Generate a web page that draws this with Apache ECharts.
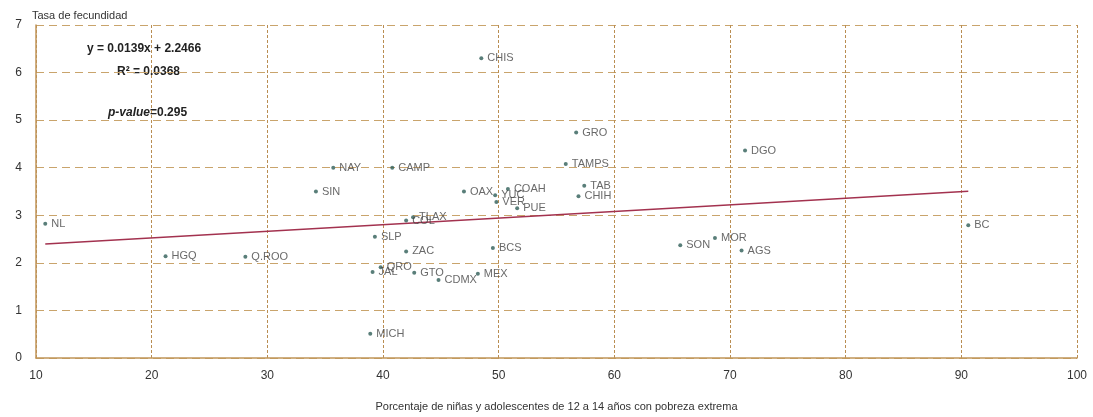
<!DOCTYPE html>
<html>
<head>
<meta charset="utf-8">
<script src="https://cdn.jsdelivr.net/npm/echarts@6/dist/echarts.min.js"></script>
<style>
html,body{margin:0;padding:0;background:#fff;}
#c{width:1093px;height:417px;}
</style>
</head>
<body>
<div id="c"></div>
<script>
const states = ['NL','HGQ','Q.ROO','NAY','CAMP','SIN','OAX','COAH','YUC','VER','PUE','TAMPS','TAB','CHIH','TLAX','COL','SLP','ZAC','BCS','QRO','JAL','GTO','CDMX','MEX','MICH','CHIS','GRO','DGO','SON','MOR','AGS','BC'];
const pobreza = [10.8,21.2,28.1,35.7,40.8,34.2,47.0,50.8,49.7,49.8,51.6,55.8,57.4,56.9,42.6,42.0,39.3,42.0,49.5,39.8,39.1,42.7,44.8,48.2,38.9,48.5,56.7,71.3,65.7,68.7,71.0,90.6];
const fecundidad = [2.82,2.14,2.13,4.00,4.00,3.50,3.50,3.55,3.42,3.28,3.15,4.08,3.62,3.40,2.96,2.89,2.55,2.24,2.31,1.91,1.81,1.79,1.64,1.77,0.51,6.30,4.74,4.36,2.37,2.52,2.26,2.79];
const slope = 0.0139, intercept = 2.2466;
const xTicks = [10,20,30,40,50,60,70,80,90,100];
const yTicks = [0,1,2,3,4,5,6,7];

const font = "'Liberation Sans', Arial, sans-serif";
const pts = states.map((s,i)=>[pobreza[i], fecundidad[i], s]);
const xmin = Math.min(...pobreza), xmax = Math.max(...pobreza);
const trend = [[xmin, slope*xmin+intercept],[xmax, slope*xmax+intercept]];

const chart = echarts.init(document.getElementById('c'));
chart.setOption({
  backgroundColor:'#fff',
  animation:false,
  textStyle:{fontFamily:font},
  grid:{left:36,right:16,top:25,bottom:55,containLabel:false},
  xAxis:{
    type:'value',min:xTicks[0],max:xTicks[xTicks.length-1],interval:10,
    name:'Porcentaje de niñas y adolescentes de 12 a 14 años con pobreza extrema',
    nameLocation:'middle',nameGap:43,
    nameTextStyle:{fontSize:11,color:'#333',fontFamily:font},
    axisLine:{show:true,lineStyle:{color:'#c09558',width:1.5}},
    axisTick:{show:false},
    axisLabel:{fontSize:12,color:'#333',margin:12,fontFamily:font},
    splitLine:{show:true,lineStyle:{color:'#b98d52',type:[3,2],width:1}}
  },
  yAxis:{
    type:'value',min:yTicks[0],max:yTicks[yTicks.length-1],interval:1,
    name:'Tasa de fecundidad',nameLocation:'end',nameGap:4,
    nameTextStyle:{fontSize:11,color:'#333',align:'left',padding:[0,0,0,-4],fontFamily:font},
    axisLine:{show:true,lineStyle:{color:'#c09558',width:1.5}},
    axisTick:{show:false},
    axisLabel:{fontSize:12,color:'#333',margin:14,fontFamily:font},
    splitLine:{show:true,lineStyle:{color:'#c9a46c',type:[8,5],width:1}}
  },
  series:[
    {
      type:'line',data:trend,symbol:'none',silent:true,
      lineStyle:{color:'#a3324f',width:1.5},z:1
    },
    {
      type:'scatter',data:pts,symbolSize:4,
      itemStyle:{color:'#2f5e58'},
      label:{show:true,position:'right',distance:4,offset:[0,2],formatter:p=>p.data[2],
        fontSize:11,color:'#444',fontFamily:font},
      labelLayout:{hideOverlap:false},
      z:3
    }
  ],
  graphic:[
    {type:'text',left:87,top:43,style:{text:'y = 0.0139x + 2.2466',font:"bold 12px "+font,fill:'#222'}},
    {type:'text',left:117,top:66,style:{text:'R² = 0.0368',font:"bold 12px "+font,fill:'#222'}},
    {type:'text',left:108,top:107,style:{
      text:'{i|p-value}{b|=0.295}',
      rich:{i:{font:"italic bold 12px "+font,fill:'#222'},b:{font:"bold 12px "+font,fill:'#222'}}
    }}
  ]
});
</script>
</body>
</html>
